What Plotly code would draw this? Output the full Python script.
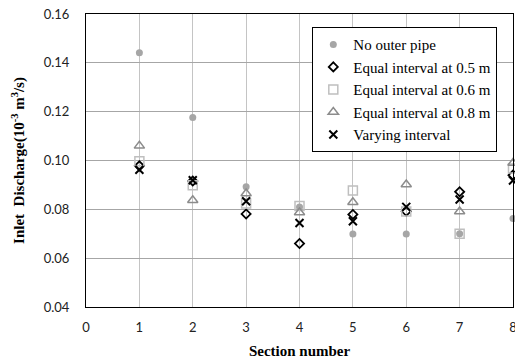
import plotly.graph_objects as go

sections = [1, 2, 3, 4, 5, 6, 7, 8]
no_outer = [0.1441, 0.1176, 0.0893, 0.0810, 0.0699, 0.0699, 0.0700, 0.0762]
eq_05 = [0.0978, 0.0916, 0.0781, 0.0660, 0.0779, 0.0792, 0.0872, 0.0940]
eq_06 = [0.0997, 0.0899, 0.0824, 0.0814, 0.0877, 0.0791, 0.0700, 0.0967]
eq_08 = [0.1060, 0.0837, 0.0865, 0.0787, 0.0829, 0.0902, 0.0791, 0.0990]
varying = [0.0962, 0.0919, 0.0833, 0.0744, 0.0751, 0.0810, 0.0840, 0.0918]

x_ticks = [0, 1, 2, 3, 4, 5, 6, 7, 8]
y_ticks = [0.04, 0.06, 0.08, 0.10, 0.12, 0.14, 0.16]

serif = "Liberation Serif"

fig = go.Figure()
fig.add_trace(go.Scatter(x=sections, y=no_outer, mode="markers", name="No outer pipe",
                         marker=dict(symbol="circle", size=7, color="#a6a6a6"), cliponaxis=False))
fig.add_trace(go.Scatter(x=sections, y=eq_05, mode="markers", name="Equal interval at 0.5 m",
                         marker=dict(symbol="diamond-open", size=7, color="black", line=dict(width=1.8)),
                         cliponaxis=False))
fig.add_trace(go.Scatter(x=sections, y=eq_06, mode="markers", name="Equal interval at 0.6 m",
                         marker=dict(symbol="square-open", size=9, color="#bfbfbf", line=dict(width=1.5)),
                         cliponaxis=False))
fig.add_trace(go.Scatter(x=sections, y=eq_08, mode="markers", name="Equal interval at 0.8 m",
                         marker=dict(symbol="triangle-up-open", size=9, color="#8c8c8c", line=dict(width=1.5)),
                         cliponaxis=False))
fig.add_trace(go.Scatter(x=sections, y=varying, mode="markers", name="Varying interval",
                         marker=dict(symbol="x-thin-open", size=8, color="black", line=dict(width=2, color="black")),
                         cliponaxis=False))

fig.update_layout(
    width=515, height=359,
    margin=dict(l=86, r=2, t=14, b=52),
    plot_bgcolor="white", paper_bgcolor="white",
    font=dict(family=serif, color="black"),
    showlegend=True,
    legend=dict(x=0.53, y=0.955, xanchor="left", yanchor="top",
                bgcolor="white", bordercolor="black", borderwidth=1,
                font=dict(family=serif, size=15, color="black"),
                itemwidth=30, tracegroupgap=0),
    xaxis=dict(range=[0, 8], tickvals=x_ticks, showgrid=True, gridcolor="#c4c4c4", gridwidth=1,
               showline=True, linecolor="black", linewidth=1, mirror=True, zeroline=False,
               automargin=False, ticklabeloverflow="allow", ticklabelstandoff=8,
               tickfont=dict(family="Lato", size=13, color="#222"),
               title=dict(text="<b>Section number</b>", font=dict(family=serif, size=15, color="black"))),
    yaxis=dict(range=[0.04, 0.16], tickvals=y_ticks, tickformat=".2f", showgrid=True,
               gridcolor="#a6a6a6", gridwidth=1,
               showline=True, linecolor="black", linewidth=1, mirror=True, zeroline=False,
               automargin=False, ticklabelstandoff=13,
               tickfont=dict(family="Lato", size=13, color="#222"),
               title=dict(text="<b>Inlet  Discharge(10<sup>-3</sup> m<sup>3</sup>/s)</b>",
                          font=dict(family=serif, size=15, color="black"))),
)

fig.write_html("out.html", config={"displayModeBar": False},
               post_script="document.body.style.margin='0';")
